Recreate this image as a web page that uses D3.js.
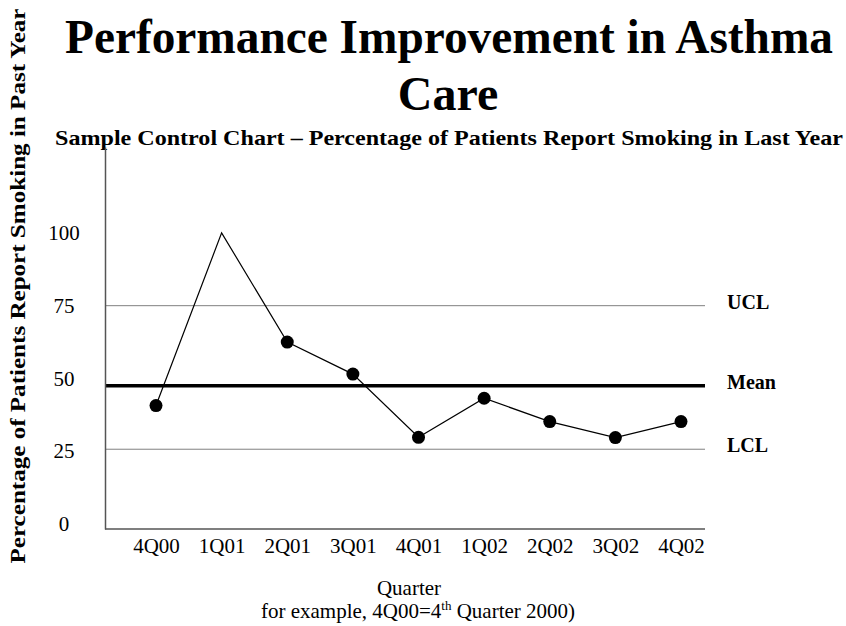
<!DOCTYPE html>
<html lang="en">
<head>
<meta charset="utf-8">
<title>Performance Improvement in Asthma Care</title>
<script src="https://d3js.org/d3.v7.min.js"></script>
<style>
  html, body { margin: 0; padding: 0; background: #fff; }
  text { font-family: "Liberation Serif", "Times New Roman", serif; fill: #000; }
  .title { font-size: 48px; font-weight: bold; }
  .subtitle { font-size: 22px; font-weight: bold; }
  .ylabel { font-size: 20px; font-weight: bold; }
  .axis text { font-size: 21px; font-family: "Liberation Serif", "Times New Roman", serif; }
  .axis path { stroke: #555; stroke-width: 1.5px; }
  .limit-label { font-size: 20px; font-weight: bold; }
  .footer { font-size: 21px; }
  path.line { fill: none; stroke: #000; stroke-width: 1.2px; }
</style>
</head>
<body>
<script>

// data
var quarters = ["4Q00", "1Q01", "2Q01", "3Q01", "4Q01", "1Q02", "2Q02", "3Q02", "4Q02"];
var smokingPct = [40.7, 100, 62.5, 51.5, 29.8, 43.2, 35.2, 29.7, 35.2];
var hasMarker = [true, false, true, true, true, true, true, true, true];
var yTicks = [0, 25, 50, 75, 100];
var limitNames = ["UCL", "Mean", "LCL"];
var limitValues = [75, 47.5, 25.7];

var W = 846, H = 626;
var plotLeft = 105, plotRight = 705, plotTop = 147, plotBottom = 529;
var yMin = -1.7, yMax = 129.5;

var svg = d3.select("body").append("svg")
  .attr("width", W).attr("height", H);

var y = d3.scaleLinear().domain([yMin, yMax]).range([plotBottom, plotTop]);
var x = d3.scalePoint().domain(quarters).range([156, 681]);

var points = quarters.map(function(q, i) {
  return {q: q, v: smokingPct[i], marker: hasMarker[i]};
});

// titles
svg.append("text").attr("class", "title")
  .attr("x", 449).attr("y", 53).attr("text-anchor", "middle")
  .attr("textLength", 768).attr("lengthAdjust", "spacingAndGlyphs")
  .text("Performance Improvement in Asthma");
svg.append("text").attr("class", "title")
  .attr("x", 448).attr("y", 110).attr("text-anchor", "middle")
  .text("Care");
svg.append("text").attr("class", "subtitle")
  .attr("x", 449).attr("y", 145).attr("text-anchor", "middle")
  .attr("textLength", 788).attr("lengthAdjust", "spacingAndGlyphs")
  .text("Sample Control Chart \u2013 Percentage of Patients Report Smoking in Last Year");

// y axis title
svg.append("text").attr("class", "ylabel")
  .attr("transform", "translate(25,286) rotate(-90)")
  .attr("text-anchor", "middle")
  .attr("textLength", 555).attr("lengthAdjust", "spacingAndGlyphs")
  .text("Percentage of Patients Report Smoking in Past Year");

// control limit lines
var limits = limitNames.map(function(n, i) { return {name: n, value: limitValues[i]}; });

svg.selectAll("line.limit").data(limits).enter().append("line")
  .attr("class", "limit")
  .attr("x1", plotLeft).attr("x2", plotRight)
  .attr("y1", function(d) { return y(d.value); })
  .attr("y2", function(d) { return y(d.value); })
  .attr("stroke", function(d) { return d.name == "Mean" ? "#000" : "#808080"; })
  .attr("stroke-width", function(d) { return d.name == "Mean" ? 3.5 : 1; });

svg.selectAll("text.limit-label").data(limits).enter().append("text")
  .attr("class", "limit-label")
  .attr("x", 727)
  .attr("y", function(d) { return y(d.value) + 3; })
  .text(function(d) { return d.name; });

// axes
var yAxis = d3.axisLeft(y).tickValues(yTicks).tickSize(0).tickSizeOuter(0);
var gy = svg.append("g").attr("class", "axis y")
  .attr("transform", "translate(" + plotLeft + ",0)")
  .call(yAxis);
gy.selectAll("text").attr("x", -41).attr("text-anchor", "middle").attr("fill", "#000");

var xAxis = d3.axisBottom(x).tickSize(0).tickPadding(9);
var gx = svg.append("g").attr("class", "axis x")
  .attr("transform", "translate(0," + plotBottom + ")")
  .call(xAxis);
gx.select(".domain").remove();
gx.selectAll("text").attr("fill", "#000");

svg.append("line")
  .attr("x1", plotLeft).attr("x2", plotRight)
  .attr("y1", y(yMin)).attr("y2", y(yMin))
  .attr("stroke", "#555").attr("stroke-width", 1.5);

// series
var line = d3.line()
  .x(function(d) { return x(d.q); })
  .y(function(d) { return y(d.v); });

svg.append("path").attr("class", "line").attr("d", line(points));

svg.selectAll("circle.pt").data(points.filter(function(d) { return d.marker; }))
  .enter().append("circle")
  .attr("class", "pt")
  .attr("cx", function(d) { return x(d.q); })
  .attr("cy", function(d) { return y(d.v); })
  .attr("r", 6.5)
  .attr("fill", "#000");

// footer
svg.append("text").attr("class", "footer")
  .attr("x", 409).attr("y", 595).attr("text-anchor", "middle")
  .text("Quarter");
var foot = svg.append("text").attr("class", "footer")
  .attr("x", 418).attr("y", 618).attr("text-anchor", "middle");
foot.append("tspan").text("for example, 4Q00=4");
foot.append("tspan").attr("font-size", "13px").attr("dy", -8).text("th");
foot.append("tspan").attr("dy", 8).text(" Quarter 2000)");

</script>
</body>
</html>
